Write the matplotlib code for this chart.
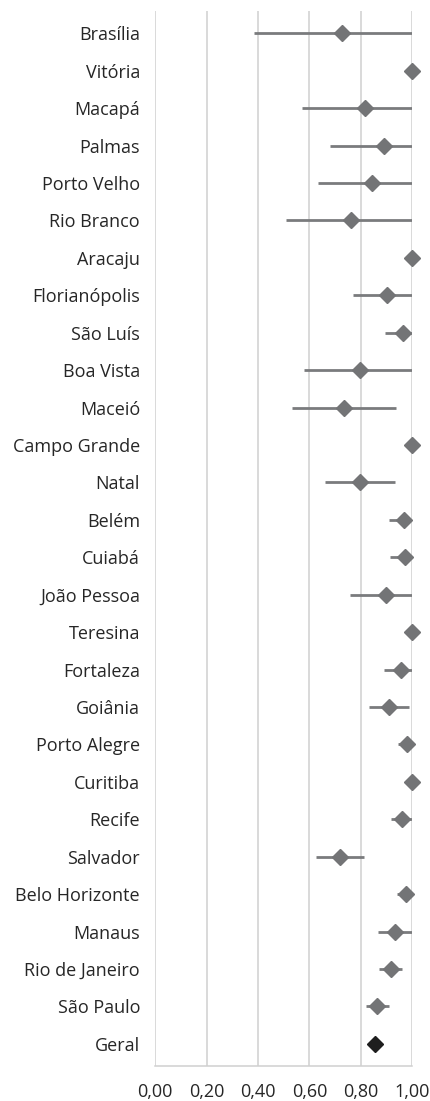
import matplotlib
matplotlib.use('Agg')
import matplotlib.pyplot as plt
import numpy as np

plt.rcParams['font.family'] = ['Open Sans', 'DejaVu Sans']

# categorias (de cima para baixo)
cidades = ['Brasília', 'Vitória', 'Macapá', 'Palmas', 'Porto Velho', 'Rio Branco',
           'Aracaju', 'Florianópolis', 'São Luís', 'Boa Vista', 'Maceió',
           'Campo Grande', 'Natal', 'Belém', 'Cuiabá', 'João Pessoa', 'Teresina',
           'Fortaleza', 'Goiânia', 'Porto Alegre', 'Curitiba', 'Recife', 'Salvador',
           'Belo Horizonte', 'Manaus', 'Rio de Janeiro', 'São Paulo', 'Geral']

# estimativa pontual
valor = [0.726, 1.00, 0.818, 0.892, 0.844, 0.764,
         1.00, 0.901, 0.966, 0.799, 0.735,
         1.00, 0.796, 0.969, 0.971, 0.899, 1.00,
         0.956, 0.910, 0.982, 1.00, 0.962, 0.718,
         0.977, 0.934, 0.917, 0.864, 0.856]

# limites do intervalo
inferior = [0.386, 1.00, 0.573, 0.682, 0.635, 0.510,
            1.00, 0.769, 0.895, 0.579, 0.534,
            1.00, 0.661, 0.910, 0.916, 0.757, 1.00,
            0.892, 0.832, 0.947, 1.00, 0.917, 0.625,
            0.943, 0.866, 0.873, 0.820, 0.856]
superior = [1.00, 1.00, 1.00, 1.00, 1.00, 1.00,
            1.00, 1.00, 1.00, 1.00, 0.938,
            1.00, 0.933, 1.00, 1.00, 1.00, 1.00,
            1.00, 0.988, 1.00, 1.00, 1.00, 0.814,
            1.00, 1.00, 0.960, 0.909, 0.856]

ticks_x = [0.0, 0.2, 0.4, 0.6, 0.8, 1.0]
rotulos_x = ['0,00', '0,20', '0,40', '0,60', '0,80', '1,00']

cinza = '#737476'
y = np.arange(len(cidades))
valor = np.array(valor)
err = [valor - np.array(inferior), np.array(superior) - valor]

fig = plt.figure(figsize=(4.31, 11.01), dpi=100)
ax = fig.add_axes([0.3603, 0.0318, 0.5957, 0.958])

ax.grid(axis='x', color='#d0d0d0', linewidth=1.1, zorder=0)
ax.set_axisbelow(True)

ax.errorbar(valor[:-1], y[:-1], xerr=[err[0][:-1], err[1][:-1]], fmt='none',
            ecolor='#7a7b7d', elinewidth=2.0, capsize=0, zorder=3)
ax.plot(valor[:-1], y[:-1], 'D', color=cinza, markersize=8, zorder=4, clip_on=False)
ax.plot(valor[-1:], y[-1:], 'D', color='#1e1e1e', markersize=8, zorder=4, clip_on=False)

ax.set_xlim(0, 1)
ax.set_ylim(len(cidades) - 0.41, -0.59)
ax.set_xticks(ticks_x)
ax.set_xticklabels(rotulos_x, fontsize=13, color='#262626')
ax.set_yticks(y)
ax.set_yticklabels(cidades, fontsize=13, color='#262626')
ax.tick_params(axis='both', length=0)
ax.tick_params(axis='y', pad=11)
ax.tick_params(axis='x', pad=12)

for s in ['top', 'right', 'left']:
    ax.spines[s].set_visible(False)
ax.spines['bottom'].set_color('#d0d0d0')
ax.spines['bottom'].set_linewidth(1.1)

fig.savefig('out.png', dpi=100)
